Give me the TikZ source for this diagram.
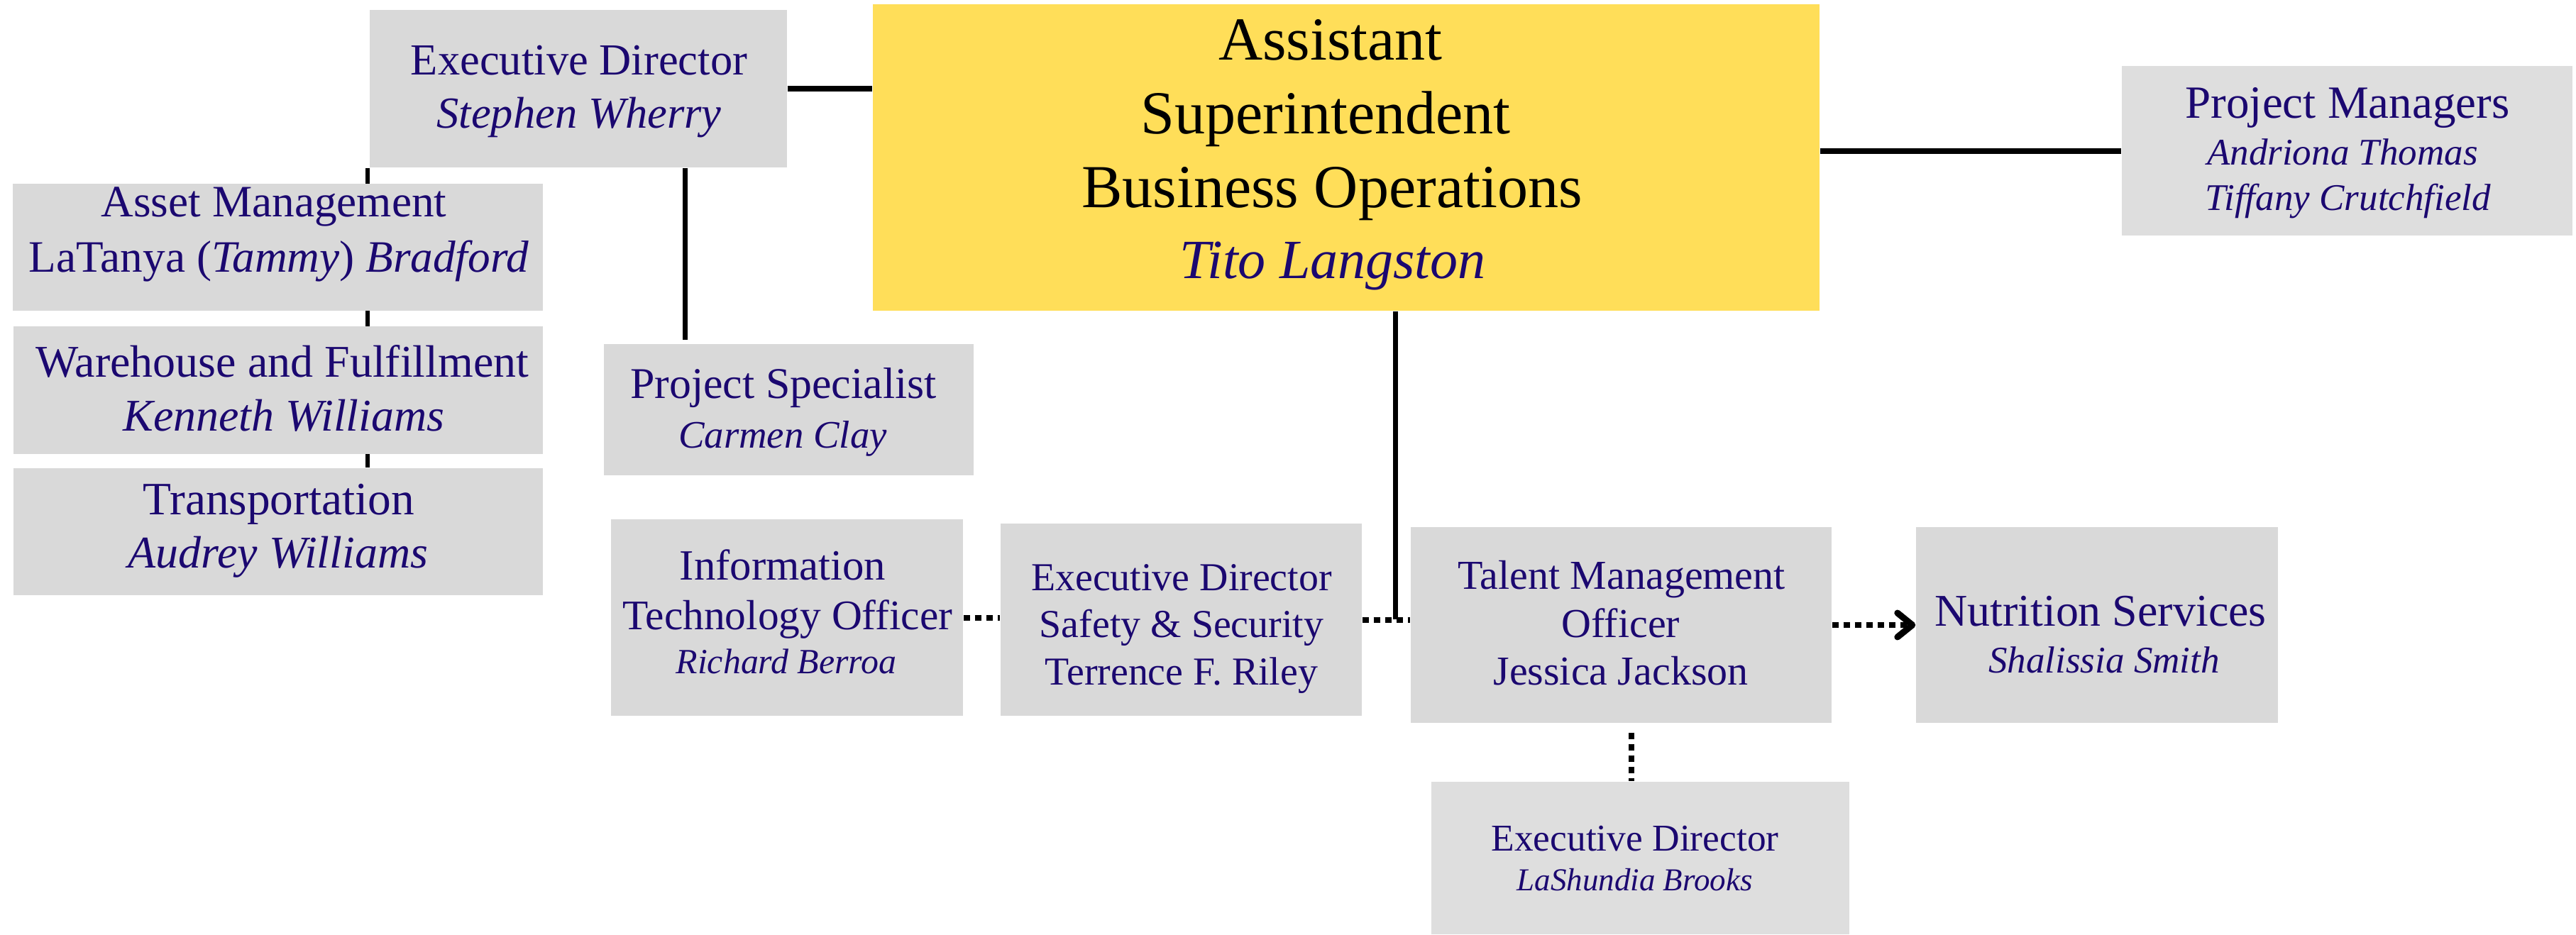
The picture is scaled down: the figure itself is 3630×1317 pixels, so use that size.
\documentclass[tikz,border=0pt]{standalone}
\usepackage{fontspec}
\setmainfont{Liberation Serif}
\usetikzlibrary{arrows.meta,backgrounds}
\definecolor{navy}{HTML}{1B0870}
\definecolor{boxgray}{HTML}{D9D9D9}
\definecolor{boxlight}{HTML}{DEDEDE}
\definecolor{gold}{HTML}{FFDE59}
\newcommand{\fsz}[1]{\fontsize{#1}{#1}\selectfont}
\begin{document}
\begin{tikzpicture}[x=0.1mm,y=-0.1mm,
  box/.style={rectangle, fill=boxgray, draw=none, inner sep=0pt},
  lbl/.style={anchor=base, inner sep=0pt, text=navy},
  solidline/.style={line width=0.75mm, black},
  dots/.style={line width=0.8mm, black, dash pattern=on 0.9mm off 0.7mm},
]
\useasboundingbox (0,0) rectangle (3630,1317);

% boxes
\node[box, minimum width=58.8mm, minimum height=22.2mm] (ed) at (815,125) {};
\node[box, fill=gold, minimum width=133.4mm, minimum height=43.2mm] (ast) at (1897,222) {};
\node[box, fill=boxlight, minimum width=63.5mm, minimum height=23.9mm] (pm) at (3307.5,212.5) {};
\node[box, minimum width=74.7mm, minimum height=17.9mm] (am) at (391.5,348.5) {};
\node[box, minimum width=74.6mm, minimum height=18.0mm] (wf) at (392,550) {};
\node[box, minimum width=74.6mm, minimum height=17.9mm] (tr) at (392,749.5) {};
\node[box, minimum width=52.1mm, minimum height=18.5mm] (ps) at (1111.5,577.5) {};
\node[box, minimum width=49.6mm, minimum height=27.7mm] (it) at (1109,870.5) {};
\node[box, minimum width=50.9mm, minimum height=27.1mm] (ss) at (1664.5,873.5) {};
\node[box, minimum width=59.3mm, minimum height=27.6mm] (tm) at (2284.5,881) {};
\node[box, minimum width=51.0mm, minimum height=27.6mm] (ns) at (2955,881) {};
\node[box, fill=boxlight, minimum width=58.9mm, minimum height=21.5mm] (ld) at (2311.5,1209.5) {};

% helper coordinates
\coordinate (amline) at (518,0);
\coordinate (pstop) at (965,479);
\coordinate (jn) at (1966,873);
\coordinate (vd) at (2299,0);

% white page and connectors behind the boxes
\begin{pgfonlayer}{background}
\fill[white] (0,0) rectangle (3630,1317);
\draw[solidline, line width=0.8mm] (ed.east) -- (ed.east -| ast.west);
\draw[solidline, line width=0.8mm] (pm.west -| ast.east) -- (pm.west);
\draw[solidline, line width=0.6mm] (ed.south -| amline) -- (tr.north -| amline);
\draw[solidline, line width=0.7mm] (ed.south -| pstop) -- (pstop);
\draw[solidline, line width=0.7mm] (ast.south -| jn) -- (jn);
\end{pgfonlayer}
\draw[dots] (it.east) -- (it.east -| ss.west);
\draw[dots] (ss.east) -- (ss.east -| tm.west);
\draw[dots, -{Straight Barb[length=2.1mm, width=3.4mm, line width=0.9mm, round]}] (tm.east) -- (ns.west);
\draw[dots] ([yshift=-1.3mm]tm.south -| vd) -- (ld.north -| vd);

% texts
\node[lbl, font=\fsz{17.8pt}] (edt) at (816,105) {Executive Director};
\node[lbl, font={\fsz{17.8pt}\itshape}] (edn) at (816,180) {Stephen Wherry};

\node[lbl, text=black, font=\fsz{24.5pt}] (ast1) at (1875,84) {Assistant};
\node[lbl, text=black, font=\fsz{24.5pt}] (ast2) at (1868,188) {Superintendent};
\node[lbl, text=black, font=\fsz{24.5pt}] (ast3) at (1877,292) {Business Operations};
\node[lbl, font={\fsz{22.2pt}\itshape}] (ast4) at (1878,392) {Tito Langston};

\node[lbl, font=\fsz{18.5pt}] (pmt) at (3308,166) {Project Managers};
\node[lbl, font={\fsz{15.1pt}\itshape}] (pmn1) at (3301,232) {Andriona Thomas};
\node[lbl, font={\fsz{15.1pt}\itshape}] (pmn2) at (3309,296) {Tiffany Crutchfield};

\node[lbl, font=\fsz{18pt}] (amt) at (386,305) {Asset Management};
\node[lbl, font=\fsz{18pt}] (amn) at (393,383) {LaTanya (\textit{Tammy}) \textit{Bradford}};

\node[lbl, font=\fsz{18.2pt}] (wft) at (398,531) {Warehouse and Fulfillment};
\node[lbl, font={\fsz{18.2pt}\itshape}] (wfn) at (400,607) {Kenneth Williams};

\node[lbl, font=\fsz{18.6pt}] (trt) at (393,725) {Transportation};
\node[lbl, font={\fsz{18.2pt}\itshape}] (trn) at (392,800) {Audrey Williams};

\node[lbl, font=\fsz{17.6pt}] (pst) at (1104,561) {Project Specialist};
\node[lbl, font={\fsz{15.6pt}\itshape}] (psn) at (1103,631) {Carmen Clay};

\node[lbl, font=\fsz{17.3pt}] (it1) at (1103,817) {Information};
\node[lbl, font=\fsz{16.9pt}] (it2) at (1110,887) {Technology Officer};
\node[lbl, font={\fsz{14.2pt}\itshape}] (itn) at (1108,949) {Richard Berroa};

\node[lbl, font=\fsz{15.9pt}] (ss1) at (1665,832) {Executive Director};
\node[lbl, font=\fsz{15.9pt}] (ss2) at (1665,898) {Safety \& Security};
\node[lbl, font=\fsz{15.9pt}] (ss3) at (1665,965) {Terrence F. Riley};

\node[lbl, font=\fsz{16.5pt}] (tm1) at (2285,830) {Talent Management};
\node[lbl, font=\fsz{16.5pt}] (tm2) at (2284,898) {Officer};
\node[lbl, font=\fsz{16.5pt}] (tm3) at (2284,965) {Jessica Jackson};

\node[lbl, font=\fsz{18.2pt}] (nst) at (2960,882) {Nutrition Services};
\node[lbl, font={\fsz{15.1pt}\itshape}] (nsn) at (2965,948) {Shalissia Smith};

\node[lbl, font=\fsz{15.2pt}] (ldt) at (2304,1199) {Executive Director};
\node[lbl, font={\fsz{12.8pt}\itshape}] (ldn) at (2303.5,1255) {LaShundia Brooks};
\end{tikzpicture}
\end{document}
